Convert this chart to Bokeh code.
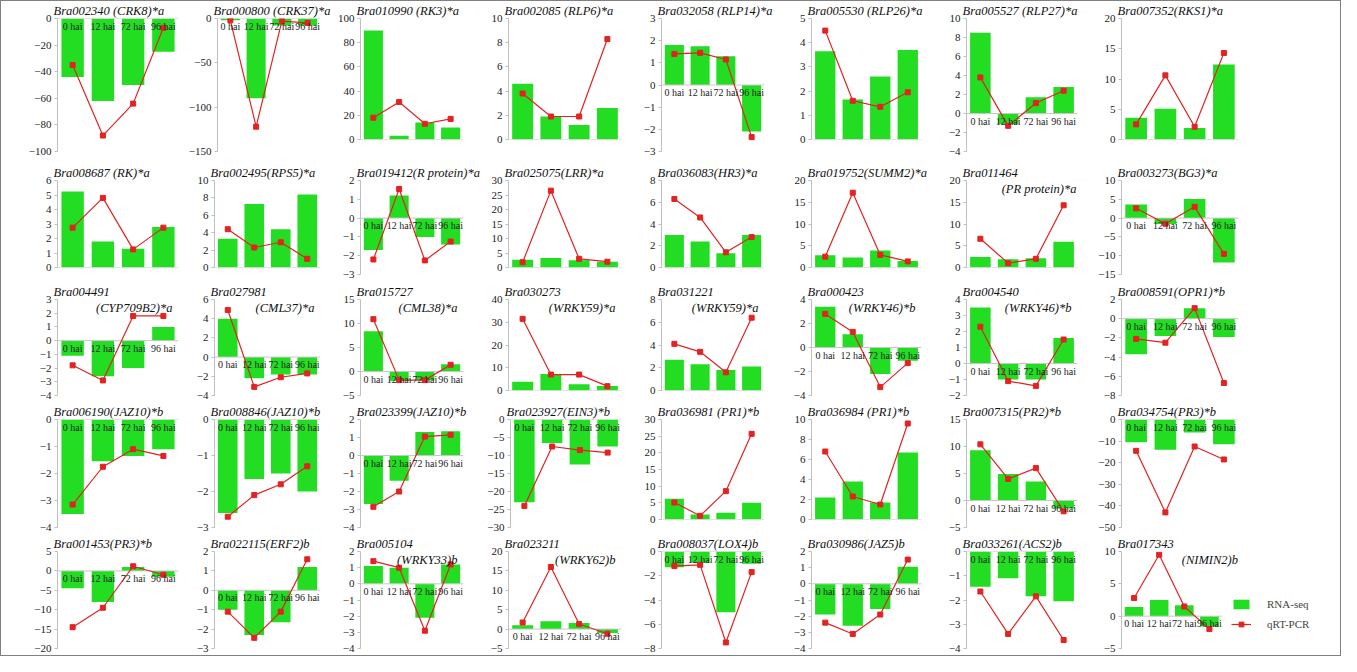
from bokeh.plotting import figure
from bokeh.models import (Range1d, FixedTicker, Label, LabelSet,
                          ColumnDataSource, Legend, LegendItem)
from bokeh.layouts import row, column
from bokeh.embed import file_html
from bokeh.resources import INLINE

# ---------------- data ----------------
TIMEPOINTS = ["0 hai", "12 hai", "72 hai", "96 hai"]

GENE_TITLES = [
    "Bra002340 (CRK8)*a", "Bra000800 (CRK37)*a", "Bra010990 (RK3)*a", "Bra002085 (RLP6)*a",
    "Bra032058 (RLP14)*a", "Bra005530 (RLP26)*a", "Bra005527 (RLP27)*a", "Bra007352(RKS1)*a",
    "Bra008687 (RK)*a", "Bra002495(RPS5)*a", "Bra019412(R protein)*a", "Bra025075(LRR)*a",
    "Bra036083(HR3)*a", "Bra019752(SUMM2)*a", "Bra011464", "Bra003273(BG3)*a",
    "Bra004491", "Bra027981", "Bra015727", "Bra030273",
    "Bra031221", "Bra000423", "Bra004540", "Bra008591(OPR1)*b",
    "Bra006190(JAZ10)*b", "Bra008846(JAZ10)*b", "Bra023399(JAZ10)*b", "Bra023927(EIN3)*b",
    "Bra036981 (PR1)*b", "Bra036984 (PR1)*b", "Bra007315(PR2)*b", "Bra034754(PR3)*b",
    "Bra001453(PR3)*b", "Bra022115(ERF2)b", "Bra005104", "Bra023211",
    "Bra008037(LOX4)b", "Bra030986(JAZ5)b", "Bra033261(ACS2)b", "Bra017343",
]

GENE_SUBTITLES = [
    "", "", "", "", "", "", "", "",
    "", "", "", "", "", "", "(PR protein)*a", "",
    "(CYP709B2)*a", "(CML37)*a", "(CML38)*a", "(WRKY59)*a",
    "(WRKY59)*a", "(WRKY46)*b", "(WRKY46)*b", "",
    "", "", "", "", "", "", "", "",
    "", "", "(WRKY33)b", "(WRKY62)b", "", "", "", "(NIMIN2)b",
]

RNA_SEQ = [
    [-44, -62, -50, -25], [-2, -90, -8, -8], [90, 3, 14, 10], [4.6, 1.9, 1.2, 2.6],
    [1.8, 1.75, 1.3, -2.1], [3.65, 1.65, 2.6, 3.7], [8.5, -1.1, 1.7, 2.8], [3.6, 5.1, 1.9, 12.4],
    [5.25, 1.8, 1.3, 2.8], [3.3, 7.3, 4.4, 8.4], [-1.7, 1.2, -1.0, -1.4], [2.7, 3.3, 2.5, 2.0],
    [3.0, 2.4, 1.3, 3.0], [2.8, 2.3, 3.9, 1.5], [2.4, 1.9, 2.1, 5.9], [3.6, -1.6, 5.1, -11.8],
    [-1.1, -2.6, -2.0, 1.0], [4.0, -2.2, -1.8, -1.8], [8.4, -2.0, -1.8, 1.5], [3.8, 7.2, 2.7, 2.0],
    [2.7, 2.3, 1.8, 2.1], [3.4, 1.1, -2.2, -1.1], [3.5, -1.0, -1.0, 1.6], [-3.7, -1.8, 1.1, -1.9],
    [-3.5, -1.55, -1.35, -1.1], [-2.6, -1.65, -1.5, -2.0], [-2.7, -1.4, 1.3, 1.35], [-23, -6.5, -12.5, -7.5],
    [6.2, 1.5, 2.0, 5.0], [2.2, 3.8, 1.7, 6.7], [9.3, 4.9, 3.5, -1.5], [-10.5, -14, -6, -11.5],
    [-4.5, -8.0, 1.0, -1.5], [-1.0, -2.3, -1.65, 1.2], [1.1, 1.0, -2.1, 1.2], [1.0, 2.0, 1.6, -1.0],
    [-1.3, -0.9, -5.0, -1.0], [-1.9, -2.6, -1.55, 1.05], [-1.45, -1.1, -1.85, -2.05], [1.4, 2.5, 1.7, -1.6],
]

QRT_PCR = [
    [-35, -88, -64, -7], [-2, -122, -3, -5], [18, 31, 13, 17], [3.8, 1.9, 1.9, 8.3],
    [1.4, 1.45, 1.15, -2.35], [4.5, 1.6, 1.35, 1.95], [3.8, -1.3, 1.1, 2.4], [2.5, 10.6, 2.1, 14.3],
    [2.75, 4.8, 1.25, 2.75], [4.4, 2.3, 2.9, 1.0], [-2.2, 1.55, -2.25, -1.25], [1.8, 26.5, 3.0, 2.0],
    [6.3, 4.6, 1.4, 2.8], [2.5, 17.2, 2.9, 1.4], [6.6, 1.0, 2.0, 14.3], [2.6, -1.5, 3.0, -9.5],
    [-1.8, -2.9, 1.8, 1.8], [4.9, -3.1, -2.1, -1.7], [10.9, -1.8, -1.8, 1.4], [31.5, 7.0, 7.0, 1.9],
    [4.1, 3.4, 1.6, 6.4], [2.8, 1.3, -3.3, -1.3], [2.3, -1.1, -1.4, 1.5], [-2.1, -2.5, 1.1, -6.7],
    [-3.15, -1.75, -1.1, -1.35], [-2.7, -2.1, -1.8, -1.3], [-2.85, -2.0, 1.05, 1.15], [-24, -7.5, -8.5, -9.2],
    [5.1, 1.1, 8.5, 25.7], [6.8, 2.3, 1.5, 9.6], [10.4, 4.0, 6.0, -2.0], [-14.5, -43, -12.5, -18.5],
    [-14.5, -9.5, 1.2, -1.0], [-1.1, -2.45, -1.1, 1.6], [1.4, 1.0, -2.9, 1.2], [1.7, 16.0, 1.3, -1.2],
    [-1.2, -1.1, -7.5, -1.7], [-2.4, -3.1, -1.9, 1.5], [-1.65, -3.4, -1.85, -3.65], [2.8, 9.5, 1.5, -2.0],
]

Y_MIN = [-100, -150, 0, 0, -3, 0, -4, 0,
         0, 0, -3, 0, 0, 0, 0, -15,
         -4, -4, -5, 0, 0, -4, -2, -8,
         -4, -3, -4, -30, 0, 0, -5, -50,
         -20, -3, -4, -5, -8, -4, -4, -5]
Y_MAX = [0, 0, 100, 10, 3, 5, 10, 20,
         6, 10, 2, 30, 8, 20, 20, 10,
         3, 6, 15, 40, 8, 4, 4, 2,
         0, 0, 2, 0, 30, 10, 15, 0,
         5, 2, 2, 20, 0, 2, 0, 10]
Y_STEP = [20, 50, 20, 2, 1, 1, 2, 5,
          1, 2, 1, 5, 2, 5, 5, 5,
          1, 2, 5, 10, 2, 2, 1, 2,
          1, 1, 1, 5, 5, 2, 5, 10,
          5, 1, 1, 5, 2, 1, 1, 5]

# ---------------- layout / style ----------------
COL_WIDTHS = [184, 149, 150, 148, 150, 155, 155, 248]
ROW_HEIGHTS = [162, 119, 120, 132, 121]
LEFT_B = [56, 29, 26, 24, 29, 29, 29, 29]
RIGHT_B = [7, 14, 21, 11, 18, 16, 15, 102]
NEG_BB = [12, 8, 7, 7, 7]
POS_BB = [24, 15, 12, 15, 12]
LEGEND_X_END = 7.9

GREEN = "#22dd22"
RED = "#e32222"
SERIF = "Liberation Serif"


def make_panel(i, r, c):
    ymin, ymax, step = Y_MIN[i], Y_MAX[i], Y_STEP[i]
    ticks = list(range(ymin, ymax + step, step))
    bb = POS_BB[r] if ymin >= 0 else NEG_BB[r]
    is_legend = (i == 39)
    x_end = LEGEND_X_END if is_legend else 3.5
    p = figure(width=COL_WIDTHS[c], height=ROW_HEIGHTS[r],
               x_range=Range1d(-0.5, x_end), y_range=Range1d(ymin, ymax),
               x_axis_location=None,
               output_backend="svg", toolbar_location=None,
               min_border_left=LEFT_B[c],
               min_border_right=(8 if is_legend else RIGHT_B[c]),
               min_border_bottom=bb, min_border_top=0)
    p.title.text = GENE_TITLES[i]
    p.title.text_font = SERIF
    p.title.text_font_style = "italic"
    p.title.text_font_size = "12.5px"
    p.title.text_color = "#111111"
    p.title.align = "left"
    p.title.offset = -4
    p.title.standoff = 1
    p.outline_line_color = None
    p.xgrid.visible = False
    p.ygrid.visible = False
    ya = p.yaxis[0]
    ya.ticker = FixedTicker(ticks=ticks)
    ya.axis_line_color = "#c0c0c0"
    ya.major_tick_line_color = "#c0c0c0"
    ya.major_tick_out = 3
    ya.major_tick_in = 0
    ya.minor_tick_line_color = None
    ya.major_label_text_font = SERIF
    ya.major_label_text_font_size = "11px"
    ya.major_label_text_color = "#222222"
    ya.major_label_standoff = 3

    xs = list(range(len(TIMEPOINTS)))
    bars = p.vbar(x=xs, top=RNA_SEQ[i], bottom=0, width=0.74,
                  fill_color=GREEN, line_color=None)
    # category axis line at zero
    p.segment(x0=[-0.5], y0=[0], x1=[3.5], y1=[0], line_color="#c8c8c8", line_width=1)
    ln = p.line(xs, QRT_PCR[i], line_color=RED, line_width=1.2)
    sc = p.scatter(xs, QRT_PCR[i], marker="square", size=5,
                   fill_color=RED, line_color=RED)

    src = ColumnDataSource(dict(x=xs, y=[0] * len(xs), t=TIMEPOINTS))
    p.add_layout(LabelSet(x="x", y="y", text="t", source=src,
                          text_font=SERIF, text_font_size="10px",
                          text_color="#222222", text_align="center",
                          text_baseline="top", y_offset=-2))

    if GENE_SUBTITLES[i]:
        xoff = -6
        if i == 14:
            xoff = -1
        elif i == 39:
            xoff = 16
        p.add_layout(Label(x=3.5, y=ymax, text=GENE_SUBTITLES[i],
                           text_font=SERIF, text_font_style="italic",
                           text_font_size="12.5px", text_color="#111111",
                           text_align="right", text_baseline="top",
                           x_offset=xoff, y_offset=-1))

    if is_legend:
        leg = Legend(items=[LegendItem(label="RNA-seq", renderers=[bars]),
                            LegendItem(label="qRT-PCR", renderers=[ln, sc])],
                     location=(106, 14), border_line_alpha=0,
                     background_fill_alpha=0,
                     label_text_font=SERIF, label_text_font_size="11px",
                     glyph_width=20, glyph_height=12, label_standoff=16,
                     spacing=8, margin=0, padding=4)
        p.add_layout(leg)
    return p


rows = []
for r in range(5):
    figs = [column(make_panel(r * 8 + c, r, c)) for c in range(8)]
    rows.append(row(*figs))

layout = column(*rows, styles={"border": "1px solid #808080"})

open("out.html", "w").write(file_html(layout, INLINE))
